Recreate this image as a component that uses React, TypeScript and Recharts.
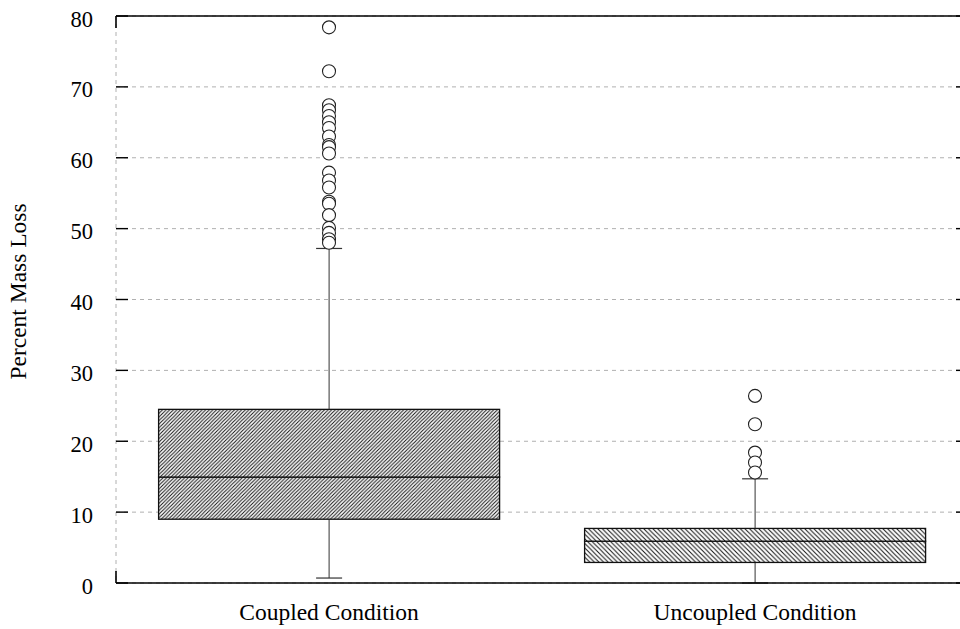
import React from 'react';
import { ComposedChart, Bar, Scatter, XAxis, YAxis, CartesianGrid } from 'recharts';

// ---- data -------------------------------------------------------------
const CATEGORIES = ['Coupled Condition', 'Uncoupled Condition'];
const WHISKER_LOW = [0.7, 0];
const Q1 = [9.0, 2.9];
const MEDIAN = [14.95, 5.9];
const Q3 = [24.5, 7.7];
const WHISKER_HIGH = [47.2, 14.7];

const COUPLED_OUTLIERS = [
  78.4, 72.2, 67.4, 66.7, 65.9, 65.0, 64.2, 63.0, 61.8, 61.5, 60.6, 57.9,
  56.8, 55.8, 53.8, 53.5, 51.9, 50.1, 49.4, 48.5, 48.0,
];
const UNCOUPLED_OUTLIERS = [26.4, 22.4, 18.4, 17.0, 15.6];

const Y_TICKS = [0, 10, 20, 30, 40, 50, 60, 70, 80];
const FRAME_TICKS = [0, 1, 2];
const Y_LABEL = 'Percent Mass Loss';

// ---- layout -----------------------------------------------------------
const CHART_W = 968;
const CHART_H = 629;
const FRAME_AXIS_H = 1;
const MARGIN = { top: 16 - FRAME_AXIS_H, right: 0, bottom: 0, left: 0 };
const Y_AXIS_W = 116;
const X_AXIS_H = 46;
const PLOT_TOP = MARGIN.top + FRAME_AXIS_H;
const PLOT_BOTTOM = CHART_H - MARGIN.bottom - X_AXIS_H;
const PLOT_RIGHT = CHART_W - MARGIN.right;
const Y_TICK_MARGIN = 23;
const TICK_LEN = 12;
const FONT = "'Liberation Serif', 'Times New Roman', serif";
const TICK_FONT_SIZE = 22.5;
const LABEL_FONT_SIZE = 23.5;

const boxRows = CATEGORIES.map((name, i) => ({
  name,
  base: WHISKER_LOW[i],
  lowWhisker: Q1[i] - WHISKER_LOW[i],
  lowBox: MEDIAN[i] - Q1[i],
  highBox: Q3[i] - MEDIAN[i],
  highWhisker: WHISKER_HIGH[i] - Q3[i],
}));

const outliers = [
  ...COUPLED_OUTLIERS.map((value) => ({ name: CATEGORIES[0], value })),
  ...UNCOUPLED_OUTLIERS.map((value) => ({ name: CATEGORIES[1], value })),
];

const HATCH = ['hatch-fwd', 'hatch-back'];

// ---- shapes -----------------------------------------------------------
const Empty = () => <g />;

const LowWhisker = (p: any) => {
  const cx = p.x + p.width / 2;
  const bottom = p.y + p.height;
  return (
    <g>
      <line x1={cx} x2={cx} y1={p.y} y2={bottom} stroke="#333" strokeWidth={1} />
      <line x1={cx - 13} x2={cx + 13} y1={bottom} y2={bottom} stroke="#333" strokeWidth={1.2} />
    </g>
  );
};

const HighWhisker = (p: any) => {
  const cx = p.x + p.width / 2;
  return (
    <g>
      <line x1={cx} x2={cx} y1={p.y} y2={p.y + p.height} stroke="#333" strokeWidth={1} />
      <line x1={cx - 13} x2={cx + 13} y1={p.y} y2={p.y} stroke="#333" strokeWidth={1.2} />
    </g>
  );
};

const BoxPart = (p: any) => {
  const idx = CATEGORIES.indexOf(p.payload?.name);
  const pid = HATCH[idx < 0 ? 0 : idx];
  return (
    <rect
      x={p.x}
      y={p.y}
      width={p.width}
      height={p.height}
      fill={`url(#${pid})`}
      stroke="#111"
      strokeWidth={1.3}
    />
  );
};

const OutlierDot = (p: any) => (
  <circle cx={p.cx} cy={p.cy} r={6.5} fill="#fff" stroke="#222" strokeWidth={1.1} />
);

// ---- axis ticks ---------------------------------------------------------
const YTick = (p: any) => {
  const axisX = p.x + Y_TICK_MARGIN;
  return (
    <g>
      <text x={p.x} y={p.y + 10.5} textAnchor="end" fontFamily={FONT} fontSize={TICK_FONT_SIZE} fill="#000">
        {p.payload.value}
      </text>
      <line x1={axisX} x2={axisX + TICK_LEN} y1={p.y} y2={p.y} stroke="#000" strokeWidth={1.4} />
      <line x1={PLOT_RIGHT - TICK_LEN} x2={PLOT_RIGHT} y1={p.y} y2={p.y} stroke="#000" strokeWidth={1.4} />
    </g>
  );
};

const FrameTick = (p: any) => (
  <g>
    <line x1={p.x} x2={p.x} y1={PLOT_TOP} y2={PLOT_TOP + TICK_LEN} stroke="#000" strokeWidth={1.6} />
    <line x1={p.x} x2={p.x} y1={PLOT_BOTTOM - TICK_LEN} y2={PLOT_BOTTOM} stroke="#000" strokeWidth={1.6} />
  </g>
);

const CategoryTick = (p: any) => (
  <text x={p.x} y={p.y + 37} textAnchor="middle" fontFamily={FONT} fontSize={LABEL_FONT_SIZE} fill="#000">
    {p.payload.value}
  </text>
);

const YLabel = (p: any) => {
  const vb = p.viewBox || { x: 0, y: PLOT_TOP, height: PLOT_BOTTOM - PLOT_TOP };
  const tx = vb.x + 26;
  const ty = vb.y + vb.height / 2 - 8;
  return (
    <text
      x={tx}
      y={ty}
      transform={`rotate(-90 ${tx} ${ty})`}
      textAnchor="middle"
      fontFamily={FONT}
      fontSize={LABEL_FONT_SIZE}
      fill="#000"
    >
      {Y_LABEL}
    </text>
  );
};

export default function App() {
  return (
    <div
      style={{
        position: 'absolute',
        left: 0,
        top: 0,
        width: 960,
        height: 629,
        overflow: 'hidden',
        background: '#fff',
      }}
    >
      <svg width={0} height={0} style={{ position: 'absolute' }}>
        <defs>
          <pattern id="hatch-fwd" patternUnits="userSpaceOnUse" width={3.6} height={3.6}>
            <rect width={3.6} height={3.6} fill="#fff" />
            <path d="M-1,1 l2,-2 M0,3.6 l3.6,-3.6 M2.6,4.6 l2,-2" stroke="#111" strokeWidth={1} />
          </pattern>
          <pattern id="hatch-back" patternUnits="userSpaceOnUse" width={4.6} height={4.6}>
            <rect width={4.6} height={4.6} fill="#fff" />
            <path d="M-1,3.6 l2,2 M0,0 l4.6,4.6 M3.6,-1 l2,2" stroke="#111" strokeWidth={1} />
          </pattern>
        </defs>
      </svg>
      <ComposedChart
        width={CHART_W}
        height={CHART_H}
        data={boxRows}
        margin={MARGIN}
        barCategoryGap="10%"
      >
        <CartesianGrid
          xAxisId="frame"
          stroke="#b0b0b0"
          strokeDasharray="4 4"
          strokeWidth={1}
        />
        <XAxis
          xAxisId="frame"
          type="number"
          orientation="top"
          domain={[0, 2]}
          ticks={FRAME_TICKS}
          height={FRAME_AXIS_H}
          tickSize={0}
          tickMargin={0}
          axisLine={{ stroke: '#000', strokeWidth: 1.4 }}
          tick={<FrameTick />}
          tickLine={false}
        />
        <XAxis
          xAxisId="cat"
          dataKey="name"
          type="category"
          allowDuplicatedCategory={false}
          height={X_AXIS_H}
          tickSize={0}
          tickMargin={0}
          tickLine={false}
          axisLine={{ stroke: '#000', strokeWidth: 1.4 }}
          tick={<CategoryTick />}
        />
        <YAxis
          type="number"
          domain={[0, 80]}
          ticks={Y_TICKS}
          width={Y_AXIS_W}
          tickSize={0}
          tickMargin={Y_TICK_MARGIN}
          tickLine={false}
          axisLine={false}
          tick={<YTick />}
          label={{ content: <YLabel /> }}
        />
        <Bar xAxisId="cat" dataKey="base" stackId="box" shape={<Empty />} isAnimationActive={false} />
        <Bar xAxisId="cat" dataKey="lowWhisker" stackId="box" shape={<LowWhisker />} isAnimationActive={false} />
        <Bar xAxisId="cat" dataKey="lowBox" stackId="box" shape={<BoxPart />} isAnimationActive={false} />
        <Bar xAxisId="cat" dataKey="highBox" stackId="box" shape={<BoxPart />} isAnimationActive={false} />
        <Bar xAxisId="cat" dataKey="highWhisker" stackId="box" shape={<HighWhisker />} isAnimationActive={false} />
        <Scatter
          xAxisId="cat"
          data={outliers}
          dataKey="value"
          shape={<OutlierDot />}
          isAnimationActive={false}
        />
      </ComposedChart>
    </div>
  );
}
